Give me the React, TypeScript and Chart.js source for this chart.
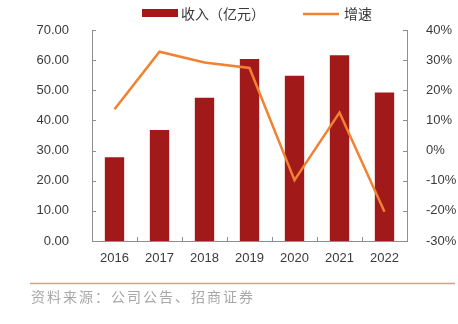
import React, { useEffect, useRef } from "react";
import { Chart, registerables } from "chart.js";

Chart.register(...registerables);

const categories = ["2016", "2017", "2018", "2019", "2020", "2021", "2022"];
const revenue = [27.8, 36.8, 47.5, 60.4, 54.8, 61.6, 49.3];
const growth = [13.7, 32.8, 29.2, 27.4, -9.8, 12.6, -20.3];
const revenueLabel = "收入（亿元）";
const growthLabel = "增速";
const sourceText = "资料来源：公司公告、招商证券";

const BAR_COLOR = "#A2191A";
const LINE_COLOR = "#F08232";
const AXIS_COLOR = "#8E8E8E";
const TEXT_COLOR = "#3A3A3A";
const CJK = '"Noto Sans CJK SC", "Noto Sans", sans-serif';
const LATIN = '"Liberation Sans", Arial, sans-serif';

const decorPlugin = {
  id: "decor",
  afterDraw(chart: any) {
    const ctx = chart.ctx;
    const area = chart.chartArea;
    const x = chart.scales.x;
    const yL = chart.scales.y;
    const yR = chart.scales.y1;
    ctx.save();
    ctx.strokeStyle = AXIS_COLOR;
    ctx.lineWidth = 1;
    yL.ticks.forEach((_: any, i: number) => {
      const py = Math.round(yL.getPixelForTick(i)) + 0.5;
      ctx.beginPath();
      ctx.moveTo(area.left, py);
      ctx.lineTo(area.left + 4, py);
      ctx.stroke();
    });
    yR.ticks.forEach((_: any, i: number) => {
      const py = Math.round(yR.getPixelForTick(i)) + 0.5;
      ctx.beginPath();
      ctx.moveTo(area.right, py);
      ctx.lineTo(area.right - 4, py);
      ctx.stroke();
    });
    const n = categories.length;
    const step = (area.right - area.left) / n;
    for (let i = 1; i < n; i++) {
      const px = Math.round(x.getPixelForTick(i) - step / 2) + 0.5;
      ctx.beginPath();
      ctx.moveTo(px, area.bottom);
      ctx.lineTo(px, area.bottom - 4);
      ctx.stroke();
    }
    // legend
    ctx.fillStyle = BAR_COLOR;
    ctx.fillRect(142, 9, 36, 8);
    ctx.fillStyle = TEXT_COLOR;
    ctx.font = `14px ${CJK}`;
    ctx.textBaseline = "middle";
    ctx.textAlign = "left";
    ctx.fillText(revenueLabel, 181, 14);
    ctx.strokeStyle = LINE_COLOR;
    ctx.lineWidth = 2.5;
    ctx.beginPath();
    ctx.moveTo(303, 14);
    ctx.lineTo(339, 14);
    ctx.stroke();
    ctx.fillText(growthLabel, 344, 14);
    // source line + text
    ctx.strokeStyle = "#E39A86";
    ctx.lineWidth = 1.5;
    ctx.beginPath();
    ctx.moveTo(30, 283.5);
    ctx.lineTo(455, 283.5);
    ctx.stroke();
    ctx.fillStyle = "#A8A8A8";
    ctx.font = `14px ${CJK}`;
    const chars = Array.from(sourceText);
    chars.forEach((c, i) => {
      ctx.fillText(c, 31 + i * 16, 297);
    });
    ctx.restore();
  },
};

export default function App() {
  const ref = useRef<HTMLCanvasElement | null>(null);
  useEffect(() => {
    document.body.style.margin = "0";
    const canvas = ref.current!;
    const chart = new Chart(canvas, {
      type: "bar",
      data: {
        labels: categories,
        datasets: [
          {
            type: "line",
            label: growthLabel,
            data: growth,
            yAxisID: "y1",
            borderColor: LINE_COLOR,
            backgroundColor: LINE_COLOR,
            borderWidth: 2.5,
            pointRadius: 0,
            tension: 0,
            order: 0,
          },
          {
            type: "bar",
            label: revenueLabel,
            data: revenue,
            yAxisID: "y",
            backgroundColor: BAR_COLOR,
            barPercentage: 0.43,
            categoryPercentage: 1,
            order: 1,
          },
        ],
      } as any,
      options: {
        responsive: false,
        animation: false,
        layout: { padding: { top: 30, left: 0, right: 0, bottom: 0 } },
        plugins: { legend: { display: false }, tooltip: { enabled: false } },
        scales: {
          x: {
            grid: { display: false },
            border: { display: true, color: AXIS_COLOR, width: 1 },
            ticks: {
              color: TEXT_COLOR,
              font: { family: LATIN, size: 13 },
              padding: 2,
              maxRotation: 0,
            },
            afterFit(scale: any) {
              scale.height = 83;
            },
          },
          y: {
            position: "left",
            min: 0,
            max: 70,
            grid: { display: false },
            border: { display: true, color: AXIS_COLOR, width: 1 },
            ticks: {
              stepSize: 10,
              color: TEXT_COLOR,
              font: { family: LATIN, size: 13 },
              padding: 15,
              callback: (v: any) => Number(v).toFixed(2),
            },
            afterFit(scale: any) {
              scale.width = 92;
            },
          },
          y1: {
            position: "right",
            min: -30,
            max: 40,
            grid: { display: false },
            border: { display: true, color: AXIS_COLOR, width: 1 },
            ticks: {
              stepSize: 10,
              color: TEXT_COLOR,
              font: { family: LATIN, size: 13 },
              padding: 11,
              callback: (v: any) => `${v}%`,
            },
            afterFit(scale: any) {
              scale.width = 51;
            },
          },
        },
      },
      plugins: [decorPlugin],
    } as any);
    return () => chart.destroy();
  }, []);
  return (
    <div style={{ position: "fixed", left: 0, top: 0, width: 458, height: 324, background: "#fff" }}>
      <canvas ref={ref} width={458} height={324} />
    </div>
  );
}
